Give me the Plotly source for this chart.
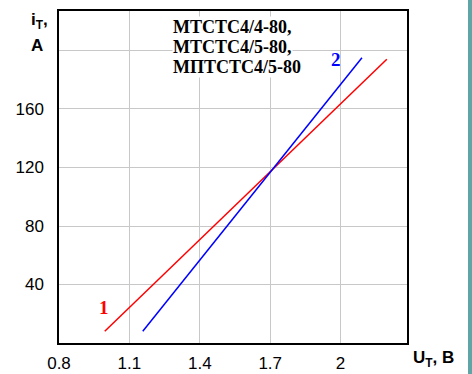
import plotly.graph_objects as go

# Data
u_curve1 = [0.995, 2.197]
i_curve1 = [8, 194]
u_curve2 = [1.157, 2.091]
i_curve2 = [8, 195]

x_ticks = [0.8, 1.1, 1.4, 1.7, 2.0]
x_ticktext = ["0.8", "1.1", "1.4", "1.7", "2"]
y_ticks = [40, 80, 120, 160, 200]
y_ticktext = ["40", "80", "120", "160", ""]

title_lines = ["MTCTC4/4-80,", "MTCTC4/5-80,", "MПTCTC4/5-80"]

W, H = 472, 374
L, R, T, B = 59, 65, 11, 31
pw = W - L - R
ph = H - T - B

def px(xp):
    return (xp - L) / pw

def py(yp):
    return (H - B - yp) / ph

fig = go.Figure()
fig.add_trace(go.Scatter(x=u_curve1, y=i_curve1, mode="lines",
                         line=dict(color="#ff0000", width=1.5), showlegend=False,
                         hoverinfo="skip"))
fig.add_trace(go.Scatter(x=u_curve2, y=i_curve2, mode="lines",
                         line=dict(color="#0000ff", width=1.5), showlegend=False,
                         hoverinfo="skip"))

serif = "Liberation Serif, Times New Roman, serif"
sans = "Liberation Sans, Arial, sans-serif"

fig.update_layout(
    width=W, height=H,
    margin=dict(l=L, r=R, t=T, b=B, autoexpand=False),
    paper_bgcolor="white", plot_bgcolor="white",
    xaxis=dict(range=[0.8, 2.283], tickvals=x_ticks, ticktext=x_ticktext,
               showgrid=True, gridcolor="#c8c8c8", gridwidth=1,
               showline=True, linecolor="black", linewidth=1.5, mirror=True,
               zeroline=False, ticks="outside", ticklen=4, tickcolor="rgba(0,0,0,0)",
               automargin=False,
               tickfont=dict(family=sans, size=17, color="black")),
    yaxis=dict(range=[0, 227], tickvals=y_ticks, ticktext=y_ticktext,
               showgrid=True, gridcolor="#c8c8c8", gridwidth=1,
               showline=True, linecolor="black", linewidth=1.5, mirror=True,
               zeroline=False, ticks="outside", ticklen=10, tickcolor="rgba(0,0,0,0)",
               automargin=False,
               tickfont=dict(family=sans, size=17, color="black")),
    font=dict(family=sans, color="black"),
    hovermode=False,
)

# Series labels
fig.add_annotation(x=0.99, y=24, text="<b>1</b>", showarrow=False,
                   xanchor="center", yanchor="middle",
                   font=dict(family=serif, size=19, color="#ff0000"))
fig.add_annotation(x=1.98, y=193.6, text="<b>2</b>", showarrow=False,
                   xanchor="center", yanchor="middle",
                   font=dict(family=serif, size=19, color="#0000ff"))

# Device names box (one line per annotation, white background hides the grid)
for k, line in enumerate(title_lines):
    fig.add_annotation(xref="paper", yref="paper", x=px(172), y=py(27 + 20 * k),
                       xanchor="left", yanchor="middle", text="<b>" + line + "</b>",
                       showarrow=False, bgcolor="white", borderpad=0,
                       font=dict(family=serif, size=18, color="black"))

# Axis titles
fig.add_annotation(xref="paper", yref="paper", x=px(39), y=py(21), text="<b>i<sub>T</sub>,</b>",
                   xanchor="center", yanchor="middle",
                   showarrow=False, font=dict(family=sans, size=17, color="black"))
fig.add_annotation(xref="paper", yref="paper", x=px(37), y=py(45), text="<b>A</b>",
                   xanchor="center", yanchor="middle",
                   showarrow=False, font=dict(family=sans, size=17, color="black"))
fig.add_annotation(xref="paper", yref="paper", x=px(433), y=py(359),
                   text="<b>U<sub>T</sub>, B</b>", xanchor="center", yanchor="middle",
                   showarrow=False, font=dict(family=sans, size=17, color="black"))

# Teal strip on the right edge
fig.add_shape(type="rect", xref="paper", yref="paper",
              x0=px(468), x1=px(472), y0=py(H), y1=py(0),
              fillcolor="#5fa5a5", line=dict(width=0), layer="above")

fig.write_html("out.html", config={"displayModeBar": False},
               post_script="document.body.style.margin='0';"
                           "document.body.style.overflow='hidden';"
                           "document.documentElement.style.overflow='hidden';")
